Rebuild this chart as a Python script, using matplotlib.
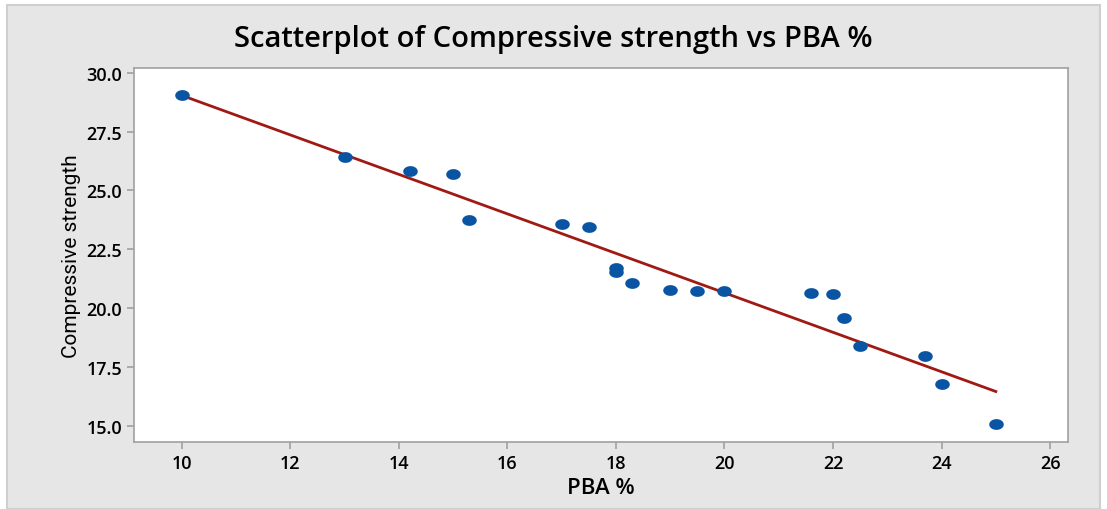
import matplotlib.pyplot as plt
import numpy as np
from matplotlib.patches import Rectangle

pba = [10, 13, 14.2, 15, 15.3, 17, 17.5, 18, 18, 18.3, 19, 19.5, 20,
       21.6, 22, 22.2, 22.5, 23.7, 24, 25]
strength = [29.06, 26.42, 25.82, 25.70, 23.72, 23.55, 23.43, 21.68, 21.52, 21.08,
            20.78, 20.74, 20.74, 20.62, 20.58, 19.58, 18.39, 17.95, 16.75, 15.05]

# least squares line
b1, b0 = np.polyfit(pba, strength, 1)
xline = np.array([min(pba), max(pba)])

fig = plt.figure(figsize=(11.07, 5.10), dpi=100)
fig.patch.set_facecolor('white')
fig.patches.append(Rectangle((7/1107, 0), 1093/1107, 1 - 6/510, transform=fig.transFigure,
                             facecolor='#e6e6e6', edgecolor='#cfcfcf', lw=1.5, zorder=-10))

ax = fig.add_axes([134/1107, 1 - 443/510, (1068-134)/1107, (443-69)/510])
ax.set_facecolor('white')

t = np.linspace(0, 2*np.pi, 40)
ellipse = np.column_stack([1.35*np.cos(t), np.sin(t)])

ax.plot(xline, b0 + b1*xline, color='#a01a14', lw=2, zorder=2)
ax.scatter(pba, strength, marker=ellipse, s=110, color='#0a55a3', zorder=3, linewidths=0)

ax.set_xlim(9.12, 26.33)
ax.set_ylim(14.3, 30.2)
ax.set_xticks(np.arange(10, 27, 2))
ax.set_yticks(np.arange(15, 30.1, 2.5))
ax.set_yticklabels([f'{v:.1f}' for v in np.arange(15, 30.1, 2.5)])

for s in ax.spines.values():
    s.set_color('#a0a0a0')
    s.set_linewidth(1.2)
ax.tick_params(colors='#a0a0a0', labelcolor='black', labelsize=13, length=5, width=1.2)
for lab in ax.get_xticklabels() + ax.get_yticklabels():
    lab.set_family('Open Sans')
    lab.set_fontweight('semibold')

ax.set_xlabel('PBA %', fontsize=16, family='Open Sans', fontweight='semibold', labelpad=4)
ax.set_ylabel('Compressive strength', fontsize=15, family='Roboto', labelpad=4)
fig.text(0.5, 1 - 40/510, 'Scatterplot of Compressive strength vs PBA %',
         ha='center', va='center', fontsize=21, family='Open Sans', fontweight='semibold')

fig.savefig('out.png', dpi=100)
